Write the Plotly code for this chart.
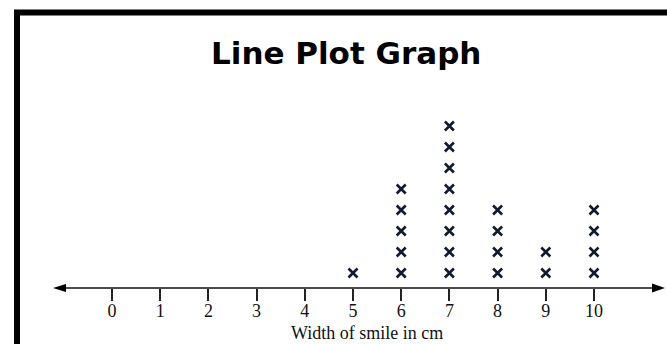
import plotly.graph_objects as go

# ---- data ----
values = [5, 6, 7, 8, 9, 10]          # width of smile (cm)
counts = [1, 5, 8, 4, 2, 4]           # number of X marks above each value
tick_vals = list(range(0, 11))
tick_text = [str(v) for v in tick_vals]
title_text = "Line Plot Graph"
axis_title = "Width of smile in cm"

# expand counts into stacked points
xs, ys = [], []
for v, c in zip(values, counts):
    for k in range(1, c + 1):
        xs.append(v)
        ys.append(k)

W, H = 667, 344
px_per_unit = 48.2
x_zero_px = 112
axis_px = 288            # pixel row of the number line
row_px = 21              # vertical spacing of stacked marks
row1_px = 273

x_range = [-x_zero_px / px_per_unit, (W - x_zero_px) / px_per_unit]
y_top = (row1_px + row_px) / row_px
y_bot = (row1_px + row_px - H) / row_px
axis_pos = (H - axis_px) / H

fig = go.Figure()
fig.add_trace(go.Scatter(
    x=xs, y=ys, mode="markers",
    marker=dict(symbol="x-thin", size=9, line=dict(width=2.6, color="#111a2e")),
    hoverinfo="skip", showlegend=False,
))

fig.update_layout(
    width=W, height=H,
    margin=dict(l=0, r=0, t=0, b=0),
    paper_bgcolor="white", plot_bgcolor="white",
    xaxis=dict(
        range=x_range, domain=[0, 1], anchor="free", position=axis_pos,
        tickmode="array", tickvals=tick_vals, ticktext=tick_text,
        ticks="outside", ticklen=12, tickwidth=1.5, tickcolor="#222",
        ticklabelstandoff=-6,
        showline=False, showgrid=False, zeroline=False,
        tickfont=dict(family="Liberation Serif", size=18, color="#111"),
        automargin=False, fixedrange=True,
    ),
    yaxis=dict(range=[y_bot, y_top], visible=False, fixedrange=True),
    showlegend=False,
)

# number line with arrow heads
left_tip = 53 / W
right_tip = 665 / W
fig.add_shape(type="line", xref="paper", yref="paper",
              x0=left_tip + 0.005, x1=right_tip - 0.005, y0=axis_pos, y1=axis_pos,
              line=dict(color="#111", width=1.5))
fig.add_shape(type="path", xref="paper", yref="paper",
              xsizemode="pixel", ysizemode="pixel",
              xanchor=right_tip, yanchor=axis_pos,
              path="M0,0 L-13,4.5 L-13,-4.5 Z",
              fillcolor="#000", line=dict(width=0))
fig.add_shape(type="path", xref="paper", yref="paper",
              xsizemode="pixel", ysizemode="pixel",
              xanchor=left_tip, yanchor=axis_pos,
              path="M0,0 L13,4 L13,-4 Z",
              fillcolor="#000", line=dict(width=0))

# frame (cut off at right and bottom)
fig.add_shape(type="rect", xref="paper", yref="paper",
              x0=17 / W, x1=1.1, y0=(H - 12.5) / H, y1=-0.1,
              line=dict(color="#000", width=6), fillcolor="rgba(0,0,0,0)")

# title
fig.add_annotation(text=title_text, xref="paper", yref="paper",
                   x=346 / W, y=(H - 33) / H, xanchor="center", yanchor="top",
                   showarrow=False,
                   font=dict(family="DejaVu Sans", size=31, color="#000", weight="bold"))

# axis title (sits at the very bottom edge, as in the source picture)
fig.add_annotation(text=axis_title, xref="paper", yref="paper",
                   x=367 / W, y=0, xanchor="center", yanchor="bottom",
                   showarrow=False, borderpad=0,
                   font=dict(family="Liberation Serif", size=18, color="#111"))

fig.write_html("out.html",
               config={"displayModeBar": False},
               post_script="document.body.style.margin='0';document.body.style.overflow='hidden';")
